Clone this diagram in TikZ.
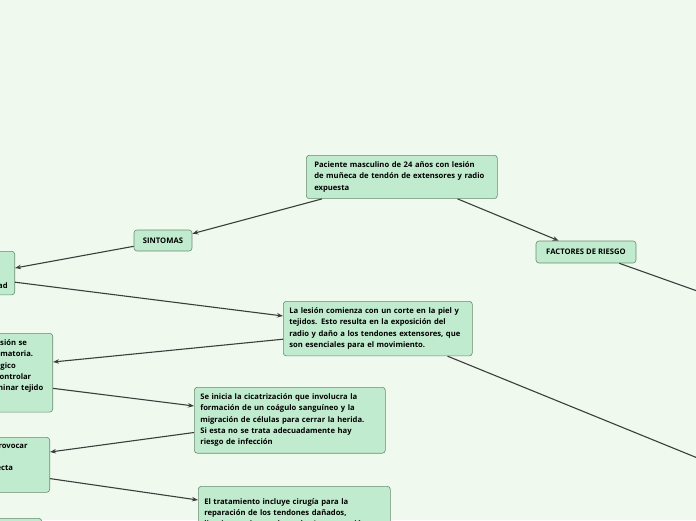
\documentclass[tikz,border=0pt]{standalone}
\usepackage{fontspec}
\setmainfont{Open Sans}
\usetikzlibrary{arrows.meta}
\definecolor{bgmint}{RGB}{240,249,238}
\definecolor{boxfill}{RGB}{193,235,206}
\definecolor{boxline}{RGB}{104,140,112}
\definecolor{linkgray}{RGB}{58,62,60}
\tikzset{
  topic/.style={draw=boxline, fill=boxfill, rounded corners=3pt, line width=0.6pt,
    font=\fontsize{7.65}{11.3}\selectfont\bfseries, inner xsep=8pt, inner ysep=6.5pt},
  textbox/.style={topic, text width=179pt, inner xsep=6pt, align=left},
  link/.style={draw=linkgray, line width=1.1pt, -{Stealth[length=6pt,width=4.5pt]}},
  plainlink/.style={draw=linkgray, line width=1.1pt}
}
\begin{document}
\begin{tikzpicture}[x=1pt, y=-1pt]
  % canvas
  \fill[bgmint] (0,0) rectangle (696,520);
  \clip (0,0) rectangle (696,520);
  % central topic and first level
  \node[textbox, anchor=north west, inner xsep=8pt, text width=175pt] (paciente) at (306,155)
    {Paciente masculino de 24 años con lesión\\de muñeca de tendón de extensores y radio\\expuesta};
  \node[topic, minimum width=58pt, minimum height=21pt] (sintomas) at (163,240.5) {SINTOMAS};
  \node[topic, minimum width=100pt, minimum height=22pt] (factores) at (586,252) {FACTORES DE RIESGO};
  % left column (cut by the page edge)
  \node[topic, anchor=north east, minimum height=39pt, text width=60pt, align=right, inner xsep=7pt]
    (sintDetalle) at (15,251) {\strut\\\strut\\ad};
  \node[topic, anchor=north east, minimum height=75pt, text width=52pt, align=left, inner xsep=5pt]
    (inflamacion) at (53,333) {esión se\\amatoria.\\ógico\\controlar\\minar tejido\\\strut};
  \node[topic, anchor=north east, minimum height=55pt, text width=50pt, align=left, inner xsep=6pt]
    (infeccion) at (50,437) {provocar\\\strut\\fecta\\\strut};
  \node[topic, anchor=north east, minimum width=80pt, minimum height=40pt] (ultimo) at (42,518) {};
  % text boxes in the middle
  \node[textbox, text width=177pt, anchor=north west] (lesion) at (283,301)
    {La lesión comienza con un corte en la piel y\\tejidos. Esto resulta en la exposición del\\radio y daño a los tendones extensores, que\\son esenciales para el movimiento.};
  \node[textbox, anchor=north west] (cicatriz) at (194,387)
    {Se inicia la cicatrización que involucra la\\formación de un coágulo sanguíneo y la\\migración de células para cerrar la herida.\\Si esta no se trata adecuadamente hay\\riesgo de infección};
  \node[textbox, text width=180pt, anchor=north west, inner ysep=5pt, minimum height=60pt, text depth=30pt] (tratamiento) at (198,486)
    {El tratamiento incluye cirugía para la\\reparación de los tendones dañados,\\limpieza y cierre adecuado. La reparación};
  % free ends off the right edge
  \coordinate (riesgoFin) at (700,292);
  \coordinate (lesionFin) at (700,459);
  % connectors
  \draw[link] ([xshift=16pt]paciente.south west) -- ([yshift=-4pt]sintomas.north east);
  \draw[link] ([xshift=-40pt]paciente.south east) -- ([xshift=23pt]factores.north west);
  \draw[link] ([yshift=5pt]sintomas.south west) -- ([yshift=-17pt]sintDetalle.north east);
  \draw[link] ([yshift=13pt]sintDetalle.south east) -- ([yshift=-15pt]lesion.north west);
  \draw[link] ([yshift=17pt]lesion.south west) -- ([yshift=-29pt]inflamacion.north east);
  \draw[link] ([yshift=24pt]inflamacion.south east) -- ([yshift=-19pt]cicatriz.north west);
  \draw[link] ([yshift=21pt]cicatriz.south west) -- ([yshift=-15pt]infeccion.north east);
  \draw[link] ([yshift=14pt]infeccion.south east) -- ([yshift=-14pt]tratamiento.north west);
  \draw[plainlink] ([xshift=-17pt]factores.south east) -- (riesgoFin);
  \draw[plainlink] ([xshift=-25pt]lesion.south east) -- (lesionFin);
\end{tikzpicture}
\end{document}
